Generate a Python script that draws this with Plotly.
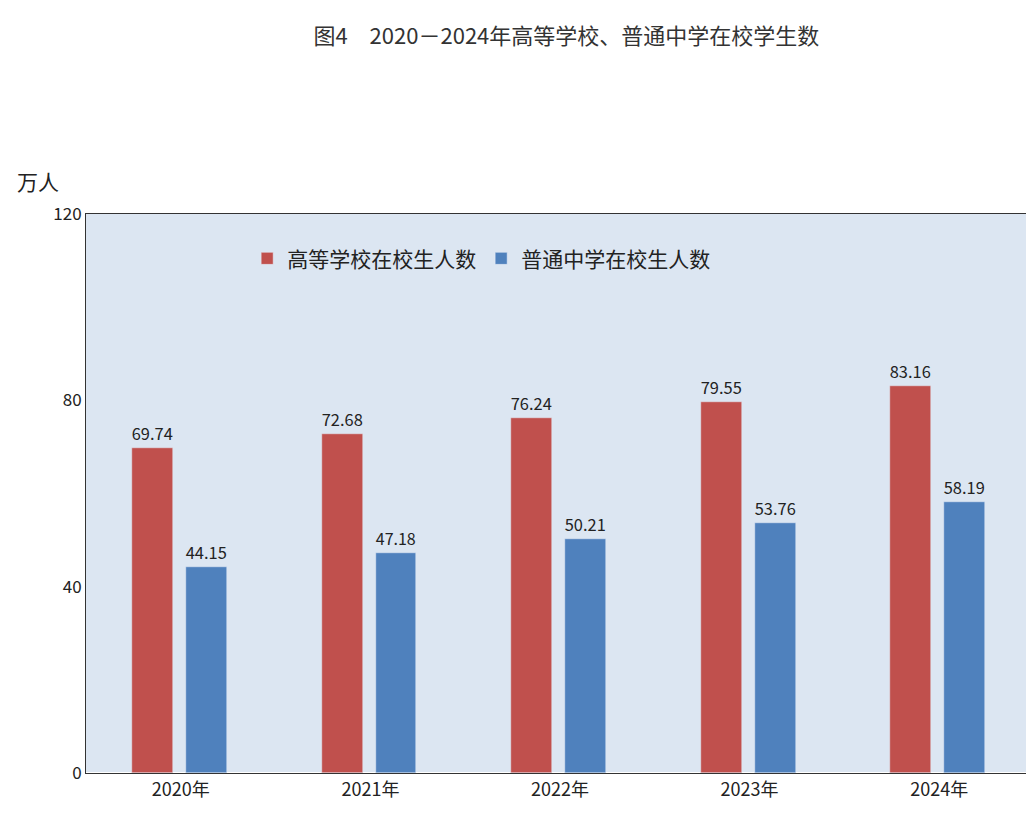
import plotly.graph_objects as go

years = ["2020年", "2021年", "2022年", "2023年", "2024年"]
higher = [69.74, 72.68, 76.24, 79.55, 83.16]
middle = [44.15, 47.18, 50.21, 53.76, 58.19]
font = "Noto Sans CJK SC"

fig = go.Figure()
fig.add_bar(x=years, y=higher, name="高等学校在校生人数", marker_color="#c0504d",
            width=0.216, offset=-0.257, text=[f"{v:.2f}" for v in higher],
            textposition="outside", textfont=dict(size=20, color="#222"), cliponaxis=False)
fig.add_bar(x=years, y=middle, name="普通中学在校生人数", marker_color="#4f81bd",
            width=0.216, offset=0.027, text=[f"{v:.2f}" for v in middle],
            textposition="outside", textfont=dict(size=20, color="#222"), cliponaxis=False)
fig.update_layout(
    width=1034, height=827, paper_bgcolor="white", plot_bgcolor="#dce6f2",
    font=dict(family=font, size=17, color="#222"),
    margin=dict(l=78, r=8, t=206, b=62),
    title=dict(text="图4　2020－2024年高等学校、普通中学在校学生数", x=0.54, y=0.975,
               xanchor="center", font=dict(size=22, color="#333")),
    legend=dict(orientation="h", x=0.17, y=0.92, xanchor="left", yanchor="middle",
                bgcolor="rgba(0,0,0,0)", font=dict(size=21), itemwidth=30),
    showlegend=True, bargap=0, uniformtext=dict(mode=False),
)
fig.update_yaxes(range=[0, 120], tickvals=[0, 40, 80, 120], showgrid=False,
                 showline=True, linecolor="#333", linewidth=1, mirror=True,
                 ticks="outside", ticklen=0, tickfont=dict(size=17))
fig.update_xaxes(showline=True, linecolor="#333", linewidth=1, mirror=True,
                 ticks="", tickfont=dict(size=18))
fig.add_annotation(text="万人", xref="paper", yref="paper", x=-0.075, y=1.09,
                   showarrow=False, xanchor="left", font=dict(size=21))
fig.write_html("out.html")
